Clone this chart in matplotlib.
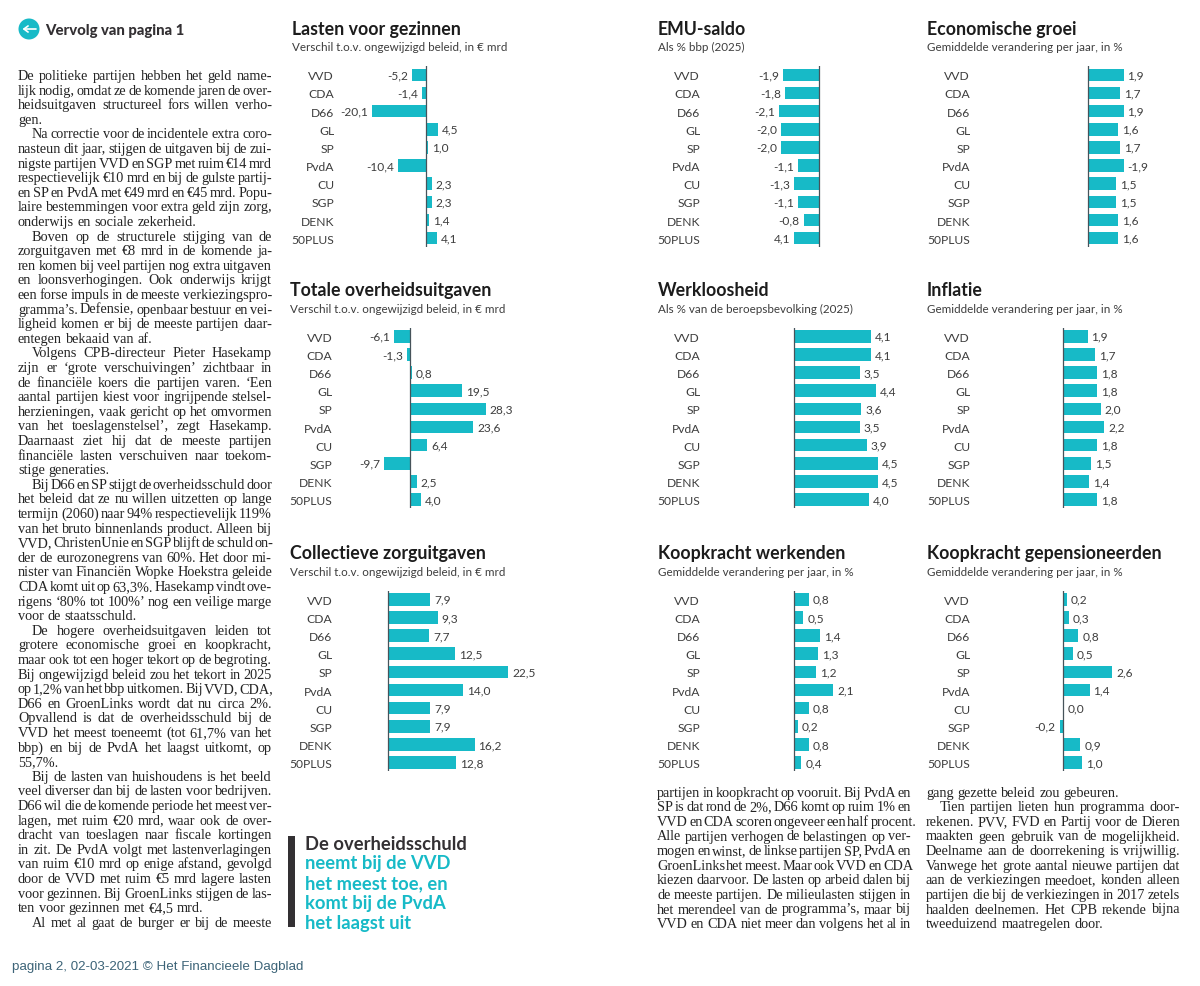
import matplotlib
matplotlib.use("Agg")
import matplotlib.pyplot as plt
from matplotlib.patches import Circle, Rectangle

W, H = 1200, 987
TEAL = "#17BAC7"
DARK = "#333033"
GREY = "#3d3d3d"
SANS = "Lato"
SERIF = "Liberation Serif"

parties = ["VVD", "CDA", "D66", "GL", "SP", "PvdA", "CU", "SGP", "DENK", "50PLUS"]

lasten_gezinnen = [-5.2, -1.4, -20.1, 4.5, 1.0, -10.4, 2.3, 2.3, 1.4, 4.1]
totale_uitgaven = [-6.1, -1.3, 0.8, 19.5, 28.3, 23.6, 6.4, -9.7, 2.5, 4.0]
zorguitgaven = [7.9, 9.3, 7.7, 12.5, 22.5, 14.0, 7.9, 7.9, 16.2, 12.8]
emu_saldo = [-1.9, -1.8, -2.1, -2.0, -2.0, -1.1, -1.3, -1.1, -0.8, -1.3]
emu_labels = ["-1,9", "-1,8", "-2,1", "-2,0", "-2,0", "-1,1", "-1,3", "-1,1", "-0,8", "4,1"]
groei = [1.9, 1.7, 1.9, 1.6, 1.7, 1.9, 1.5, 1.5, 1.6, 1.6]
groei_labels = ["1,9", "1,7", "1,9", "1,6", "1,7", "-1,9", "1,5", "1,5", "1,6", "1,6"]
werkloosheid = [4.1, 4.1, 3.5, 4.4, 3.6, 3.5, 3.9, 4.5, 4.5, 4.0]
inflatie = [1.3, 1.7, 1.8, 1.8, 2.0, 2.2, 1.8, 1.5, 1.4, 1.8]
inflatie_labels = ["1,9", "1,7", "1,8", "1,8", "2,0", "2,2", "1,8", "1,5", "1,4", "1,8"]
koopkracht_werkenden = [0.8, 0.5, 1.4, 1.3, 1.2, 2.1, 0.8, 0.2, 0.8, 0.4]
koopkracht_gepensioneerden = [0.2, 0.3, 0.8, 0.5, 2.6, 1.4, 0.0, -0.2, 0.9, 1.0]

sub_mrd = "Verschil t.o.v. ongewijzigd beleid, in € mrd"
sub_jaar = "Gemiddelde verandering per jaar, in %"

# title, subtitle, values, labels, title x, title baseline, label right x, zero x, px per unit, first row y
panels = [
    ("Lasten voor gezinnen", sub_mrd, lasten_gezinnen, None, 292, 34.7, 334, 425.7, 2.66, 75.8),
    ("Totale overheidsuitgaven", sub_mrd, totale_uitgaven, None, 290, 296, 332.3, 410, 2.68, 337.3),
    ("Collectieve zorguitgaven", sub_mrd, zorguitgaven, None, 290, 559, 332.3, 388, 5.35, 600.3),
    ("EMU-saldo", "Als % bbp (2025)", emu_saldo, emu_labels, 658, 34.7, 700, 818.7, 18.7, 75.8),
    ("Economische groei", sub_jaar, groei, groei_labels, 927, 34.7, 970, 1088.3, 18.6, 75.8),
    ("Werkloosheid", "Als % van de beroepsbevolking (2025)", werkloosheid, None, 658, 296, 700, 794, 18.72, 337.3),
    ("Inflatie", sub_jaar, inflatie, inflatie_labels, 927, 296, 970, 1063.3, 18.7, 337.3),
    ("Koopkracht werkenden", sub_jaar, koopkracht_werkenden, None, 658, 559, 700, 794, 18.75, 600.3),
    ("Koopkracht gepensioneerden", sub_jaar, koopkracht_gepensioneerden, None, 927, 559, 970, 1063.3, 18.85, 600.3),
]

col1_lines = [
    "De politieke partijen hebben het geld name-",
    "lijk nodig, omdat ze de komende jaren de over-",
    "heidsuitgaven structureel fors willen verho-",
    "gen.",
    "Na correctie voor de incidentele extra coro-",
    "nasteun dit jaar, stijgen de uitgaven bij de zui-",
    "nigste partijen VVD en SGP met ruim €14 mrd",
    "respectievelijk €10 mrd en bij de gulste partij-",
    "en SP en PvdA met €49 mrd en €45 mrd. Popu-",
    "laire bestemmingen voor extra geld zijn zorg,",
    "onderwijs en sociale zekerheid.",
    "Boven op de structurele stijging van de",
    "zorguitgaven met €8 mrd in de komende ja-",
    "ren komen bij veel partijen nog extra uitgaven",
    "en loonsverhogingen. Ook onderwijs krijgt",
    "een forse impuls in de meeste verkiezingspro-",
    "gramma’s. Defensie, openbaar bestuur en vei-",
    "ligheid komen er bij de meeste partijen daar-",
    "entegen bekaaid van af.",
    "Volgens CPB-directeur Pieter Hasekamp",
    "zijn er ‘grote verschuivingen’ zichtbaar in",
    "de financiële koers die partijen varen. ‘Een",
    "aantal partijen kiest voor ingrijpende stelsel-",
    "herzieningen, vaak gericht op het omvormen",
    "van het toeslagenstelsel’, zegt Hasekamp.",
    "Daarnaast ziet hij dat de meeste partijen",
    "financiële lasten verschuiven naar toekom-",
    "stige generaties.",
    "Bij D66 en SP stijgt de overheidsschuld door",
    "het beleid dat ze nu willen uitzetten op lange",
    "termijn (2060) naar 94% respectievelijk 119%",
    "van het bruto binnenlands product. Alleen bij",
    "VVD, ChristenUnie en SGP blijft de schuld on-",
    "der de eurozonegrens van 60%. Het door mi-",
    "nister van Financiën Wopke Hoekstra geleide",
    "CDA komt uit op 63,3%. Hasekamp vindt ove-",
    "rigens ‘80% tot 100%’ nog een veilige marge",
    "voor de staatsschuld.",
    "De hogere overheidsuitgaven leiden tot",
    "grotere economische groei en koopkracht,",
    "maar ook tot een hoger tekort op de begroting.",
    "Bij ongewijzigd beleid zou het tekort in 2025",
    "op 1,2% van het bbp uitkomen. Bij VVD, CDA,",
    "D66 en GroenLinks wordt dat nu circa 2%.",
    "Opvallend is dat de overheidsschuld bij de",
    "VVD het meest toeneemt (tot 61,7% van het",
    "bbp) en bij de PvdA het laagst uitkomt, op",
    "55,7%.",
    "Bij de lasten van huishoudens is het beeld",
    "veel diverser dan bij de lasten voor bedrijven.",
    "D66 wil die de komende periode het meest ver-",
    "lagen, met ruim €20 mrd, waar ook de over-",
    "dracht van toeslagen naar fiscale kortingen",
    "in zit. De PvdA volgt met lastenverlagingen",
    "van ruim €10 mrd op enige afstand, gevolgd",
    "door de VVD met ruim €5 mrd lagere lasten",
    "voor gezinnen. Bij GroenLinks stijgen de las-",
    "ten voor gezinnen met €4,5 mrd.",
    "Al met al gaat de burger er bij de meeste",
]
col1_indented = [4, 11, 19, 28, 38, 48, 58]

col3_lines = [
    "partijen in koopkracht op vooruit. Bij PvdA en",
    "SP is dat rond de 2%, D66 komt op ruim 1% en",
    "VVD en CDA scoren ongeveer een half procent.",
    "Alle partijen verhogen de belastingen op ver-",
    "mogen en winst, de linkse partijen SP, PvdA en",
    "GroenLinks het meest. Maar ook VVD en CDA",
    "kiezen daarvoor. De lasten op arbeid dalen bij",
    "de meeste partijen. De milieulasten stijgen in",
    "het merendeel van de programma’s, maar bij",
    "VVD en CDA niet meer dan volgens het al in",
]
col4_lines = [
    "gang gezette beleid zou gebeuren.",
    "Tien partijen lieten hun programma door-",
    "rekenen. PVV, FVD en Partij voor de Dieren",
    "maakten geen gebruik van de mogelijkheid.",
    "Deelname aan de doorrekening is vrijwillig.",
    "Vanwege het grote aantal nieuwe partijen dat",
    "aan de verkiezingen meedoet, konden alleen",
    "partijen die bij de verkiezingen in 2017 zetels",
    "haalden deelnemen. Het CPB rekende bijna",
    "tweeduizend maatregelen door.",
]
col4_indented = [1]

quote_dark = ["De overheidsschuld"]
quote_teal = ["neemt bij de VVD", "het meest toe, en", "komt bij de PvdA", "het laagst uit"]

fig = plt.figure(figsize=(W / 100, H / 100), dpi=100, facecolor="white")
bg = fig.add_axes([0, 0, 1, 1])
bg.set_xlim(0, W)
bg.set_ylim(H, 0)
bg.axis("off")
renderer = fig.canvas.get_renderer()


def text_width(s, size):
    t = bg.text(0, 0, s, family=SERIF, fontsize=size)
    w = t.get_window_extent(renderer).width
    t.remove()
    return w


def body(lines, x, y0, indented=(), width=254, size=10.3, step=14.6):
    """Justified column at one font size: word spaces take up the slack."""
    space = text_width("n n", size) - text_width("nn", size)
    for i, line in enumerate(lines):
        ind = 14 if i in indented else 0
        target = width - ind
        words = line.split(" ")
        widths = [text_width(w, size) for w in words]
        gap = (target - sum(widths)) / max(len(words) - 1, 1)
        if gap > space * 2.3:
            gap = space
        gap = max(gap, 1.2)
        cx = x + ind
        for w, ww in zip(words, widths):
            bg.text(cx, y0 + i * step, w, family=SERIF, fontsize=size, color="#242424",
                    va="baseline", ha="left")
            cx += ww + gap


body(col1_lines, 18, 80, col1_indented)
body(col3_lines, 657, 796.7)
body(col4_lines, 926, 796.7, col4_indented)

# header
bg.add_patch(Circle((29, 30), 10.5, color=TEAL, lw=0))
bg.annotate("", xy=(22.5, 30), xytext=(36, 30),
            arrowprops=dict(arrowstyle="->,head_width=0.22,head_length=0.3", color="white", lw=1.2,
                            shrinkA=0, shrinkB=0))
bg.text(45.5, 31, "Vervolg van pagina 1", family=SANS, weight="black", fontsize=10.7,
        color=DARK, va="center")

# quote
bg.add_patch(Rectangle((288, 837), 7, 91, color=DARK, lw=0))
for i, line in enumerate(quote_dark + quote_teal):
    bg.text(305, 844 + i * 19.8, line, family=SANS, weight="bold", fontsize=13.2,
            color=DARK if i == 0 else TEAL, va="center")

# footer
bg.text(12, 967, "pagina 2, 02-03-2021 © Het Financieele Dagblad", family="Liberation Sans",
        fontsize=9.65, color="#3d6478", va="center")

STEP = 18.15
for title, sub, vals, labs, tx, ty, lx, zero, scale, y0 in panels:
    bg.text(tx, ty, title, family=SANS, weight="bold", fontsize=12.8, color="#1c1c1c", va="baseline")
    bg.text(tx, ty + 16.6, sub, family=SANS, fontsize=8.4, color=GREY, va="baseline")
    left, right = lx + 1, zero + 170
    top, bottom = y0 - 8.7, y0 + 9 * STEP + 8.5
    ax = fig.add_axes([left / W, 1 - bottom / H, (right - left) / W, (bottom - top) / H])
    ax.patch.set_visible(False)
    ax.set_xlim((left - zero) / scale, (right - zero) / scale)
    ax.set_ylim((bottom - y0) / STEP, (top - y0) / STEP)
    bars = ax.barh(range(len(parties)), vals, height=0.69, color=TEAL, lw=0, zorder=2)
    ax.axvline(0, color="#46535a", lw=0.9, zorder=3)
    ax.set_yticks(range(len(parties)), parties, family=SANS, fontsize=8.7, color=GREY)
    ax.set_xticks([])
    ax.tick_params(axis="y", length=0, pad=0.7)
    for s in ax.spines.values():
        s.set_visible(False)
    text_labels = labs if labs else [f"{v:.1f}".replace(".", ",") for v in vals]
    ax.bar_label(bars, labels=text_labels, padding=2.8, family=SANS, fontsize=8.6, color=GREY)

fig.savefig("out.png", dpi=100, facecolor="white")
